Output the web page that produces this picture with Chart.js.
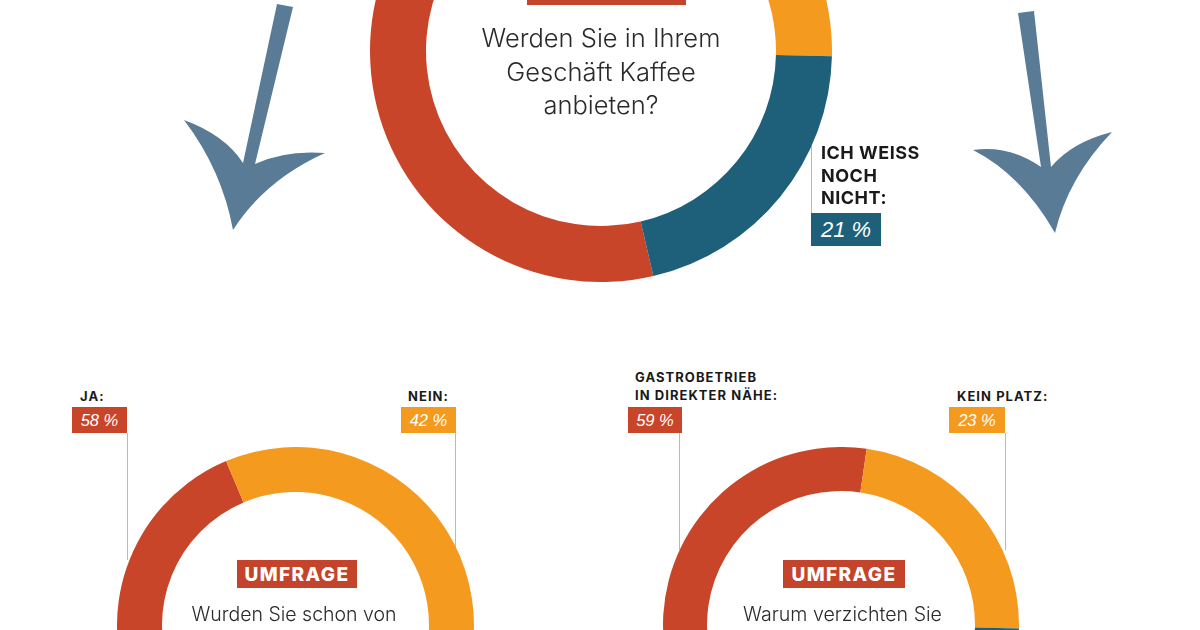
<!DOCTYPE html>
<html lang="de">
<head>
<meta charset="utf-8">
<title>Umfrage Kaffee</title>
<script src="https://cdn.jsdelivr.net/npm/chart.js@4"></script>
<style>
  html, body { margin: 0; background: #fff; }
  #page { position: relative; width: 1200px; height: 630px; overflow: hidden; background: #fff; font-family: Inter, "Noto Sans", sans-serif; }
  #page canvas { position: absolute; }
  .abs { position: absolute; white-space: nowrap; }
  .q { font-weight: 300; color: #2a2a2a; text-align: center; transform: translateX(-50%); }
  .cat { font-weight: 700; color: #1a1a1a; }
  .pct { font-style: italic; color: #fff; display: flex; align-items: center; justify-content: center; font-family: "Liberation Sans", sans-serif; }
  .tag { background: #c4432b; color: #fff; font-weight: 800; text-align: center; letter-spacing: 1.4px; }
  .lead { background: #b9b9b9; width: 1px; }
  svg { position: absolute; left: 0; top: 0; }
</style>
</head>
<body>
<div id="page">
  <svg width="1200" height="630" fill="#5a7b96">
    <path d="M277 4 L293 7 L255 164 Q285 150 325 153 Q265 180 233 230 Q222 170 184 120 Q225 135 243 163 Z"/>
    <path d="M1018 13 L1034 11 L1051 167 Q1072 142 1112 132 Q1068 178 1055 233 Q1022 175 973 150 Q1010 145 1041 167 Z"/>
  </svg>
</div>
<script>
  const RED = '#c8452a';
  const ORANGE = '#f39a1f';
  const TEAL = '#1e6079';

  // Oberer Ring: Rot und Orange sind oben abgeschnitten, Werte geschätzt
  const topCategories = ['Ja', 'Nein', 'Ich weiss noch nicht'];
  const topValues = [48, 31, 21];
  const leftCategories = ['Ja', 'Nein'];
  const leftValues = [58, 42];
  const rightCategories = ['Gastrobetrieb in direkter Nähe', 'Kein Platz', 'Andere'];
  const rightValues = [59, 23, 18];

  const page = document.getElementById('page');

  function addDoughnut(labels, values, colors, cx, cy, outer, inner, rotation) {
    const canvas = document.createElement('canvas');
    canvas.width = outer * 2;
    canvas.height = outer * 2;
    canvas.style.left = (cx - outer) + 'px';
    canvas.style.top = (cy - outer) + 'px';
    page.appendChild(canvas);
    new Chart(canvas.getContext('2d'), {
      type: 'doughnut',
      data: { labels, datasets: [{ data: values, backgroundColor: colors, borderWidth: 0 }] },
      options: {
        responsive: false,
        animation: false,
        rotation,
        cutout: (inner / outer * 100) + '%',
        layout: { padding: 0 },
        plugins: { legend: { display: false }, tooltip: { enabled: false } },
      },
    });
  }

  function addDiv(cls, text, css) {
    const el = document.createElement('div');
    el.className = 'abs ' + cls;
    el.innerHTML = text;
    Object.assign(el.style, css);
    page.appendChild(el);
    return el;
  }

  function addLead(x, y1, y2) {
    addDiv('lead', '', { left: x + 'px', top: y1 + 'px', height: (y2 - y1) + 'px' });
  }

  function addPct(value, color, x, y, w, h, size) {
    addDiv('pct', value + ' %', {
      left: x + 'px', top: y + 'px', width: w + 'px', height: h + 'px',
      background: color, fontSize: size + 'px',
    });
  }

  // Leitlinien zuerst, damit die Ringe darüber liegen
  addLead(811, 146, 214);
  addLead(127, 433, 560);
  addLead(455, 433, 550);
  addLead(679, 433, 550);
  addLead(1005, 433, 550);

  // Rotation: Startwinkel des ersten Segments im Uhrzeigersinn ab 12 Uhr
  addDoughnut(topCategories, topValues, [RED, ORANGE, TEAL], 601, 51, 231, 175, 166.9);
  addDoughnut(leftCategories, leftValues, [RED, ORANGE], 295.5, 625.5, 178.5, 133.5, 128.3);
  addDoughnut(rightCategories, rightValues, [RED, ORANGE, TEAL], 841, 625, 178, 134, 155.9);

  const smallCat = { fontSize: '13px', letterSpacing: '1.05px' };

  // Oberer Ring: Texte
  addDiv('tag', '', { left: '527px', top: '-20px', width: '159px', height: '25px' });
  addDiv('q', 'Werden Sie in Ihrem<br>Geschäft Kaffee<br>anbieten?', { left: '601px', top: '21px', fontSize: '25.5px', lineHeight: '33.5px' });
  addDiv('cat', 'ICH WEISS<br>NOCH<br>NICHT:', { left: '821px', top: '142px', fontSize: '18px', letterSpacing: '.5px', lineHeight: '22.7px' });
  addPct(topValues[2], TEAL, 811, 213, 70, 33, 22);

  // Unten links
  addDiv('cat', 'JA:', { left: '80px', top: '389px', lineHeight: '14px', ...smallCat });
  addDiv('cat', 'NEIN:', { left: '408px', top: '389px', lineHeight: '14px', ...smallCat });
  addPct(leftValues[0], RED, 72, 407, 55, 26, 16.5);
  addPct(leftValues[1], ORANGE, 401, 407, 55, 26, 16.5);
  addDiv('tag', 'UMFRAGE', { left: '237px', top: '560px', width: '120px', height: '28px', lineHeight: '30px', fontSize: '19px' });
  addDiv('q', 'Wurden Sie schon von', { left: '294px', top: '601px', fontSize: '19.5px', lineHeight: '26px' });

  // Unten rechts
  addDiv('cat', 'GASTROBETRIEB<br>IN DIREKTER NÄHE:', { left: '635px', top: '369px', lineHeight: '17.5px', ...smallCat });
  addDiv('cat', 'KEIN PLATZ:', { left: '957px', top: '389px', lineHeight: '14px', ...smallCat });
  addPct(rightValues[0], RED, 628, 407, 54, 26, 16.5);
  addPct(rightValues[1], ORANGE, 949, 407, 56, 26, 16.5);
  addDiv('tag', 'UMFRAGE', { left: '783px', top: '560px', width: '122px', height: '28px', lineHeight: '30px', fontSize: '19px' });
  addDiv('q', 'Warum verzichten Sie', { left: '842.5px', top: '601px', fontSize: '19.6px', lineHeight: '26px' });
</script>
</body>
</html>
